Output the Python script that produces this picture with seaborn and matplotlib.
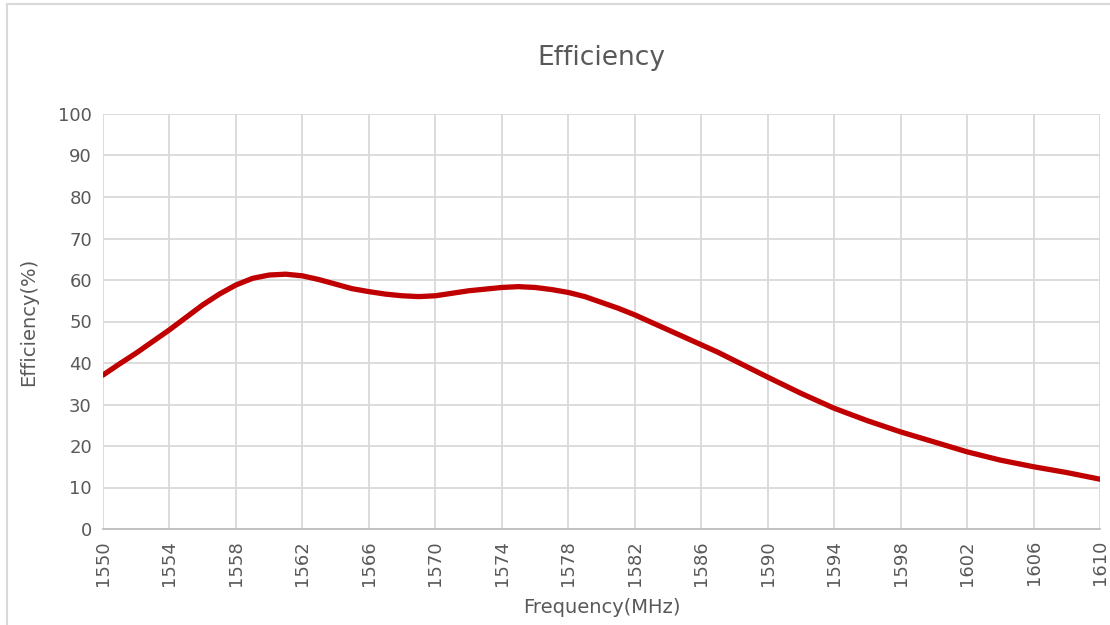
import matplotlib
matplotlib.use("Agg")
import matplotlib.pyplot as plt
import pandas as pd
import seaborn as sns
from matplotlib.lines import Line2D

# values: every 1 MHz up to 1590, then every 2 MHz
freq_mhz = [1550, 1551, 1552, 1553, 1554, 1555, 1556, 1557, 1558, 1559,
            1560, 1561, 1562, 1563, 1564, 1565, 1566, 1567, 1568, 1569,
            1570, 1571, 1572, 1573, 1574, 1575, 1576, 1577, 1578, 1579,
            1580, 1581, 1582, 1583, 1584, 1585, 1586, 1587, 1588, 1589,
            1590, 1592, 1594, 1596, 1598, 1600, 1602, 1604, 1606, 1608, 1610]
efficiency = [37.1, 39.8, 42.4, 45.2, 48.0, 51.0, 54.0, 56.6, 58.8, 60.4,
              61.2, 61.4, 61.0, 60.1, 59.0, 57.9, 57.2, 56.6, 56.2, 56.0,
              56.2, 56.8, 57.4, 57.8, 58.2, 58.4, 58.2, 57.7, 57.0, 56.0,
              54.6, 53.2, 51.6, 49.8, 48.0, 46.2, 44.4, 42.6, 40.6, 38.6,
              36.6, 32.7, 29.1, 26.1, 23.4, 21.0, 18.6, 16.6, 15.0, 13.6, 12.0]
x_ticks = list(range(1550, 1611, 4))
y_ticks = list(range(0, 101, 10))

df = pd.DataFrame({"Frequency": freq_mhz, "Efficiency": efficiency})

sns.set_style("white")
plt.rcParams["font.family"] = ["DejaVu Sans"]
text_color = "#595959"
grid_color = "#D9D9D9"

fig = plt.figure(figsize=(11.1, 6.25), dpi=100)
ax = fig.add_axes([103 / 1110, 1 - 529 / 625, 997 / 1110, 415 / 625])

sns.lineplot(data=df, x="Frequency", y="Efficiency", ax=ax,
             color="#C00000", linewidth=3.8, solid_capstyle="round",
             solid_joinstyle="round")

ax.set_xlim(1550, 1610)
ax.set_ylim(0, 100)
ax.set_xticks(x_ticks)
ax.set_yticks(y_ticks)
ax.set_xticklabels([str(t) for t in x_ticks], rotation=90)
ax.grid(True, color=grid_color, linewidth=1.3)
ax.set_axisbelow(True)
for side in ["top", "right", "left"]:
    ax.spines[side].set_visible(False)
ax.spines["bottom"].set_color("#BFBFBF")
ax.spines["bottom"].set_linewidth(1.3)
ax.tick_params(axis="both", length=0, labelsize=13, colors=text_color, pad=8)

ax.set_xlabel("Frequency(MHz)", fontsize=14, color=text_color, labelpad=9)
ax.set_ylabel("Efficiency(%)", fontsize=14, color=text_color, labelpad=14)
fig.text(0.5 * (103 + 1100) / 1110, 1 - 58 / 625, "Efficiency",
         ha="center", va="center", fontsize=19, color=text_color)

# chart area border
fig.add_artist(Line2D([7 / 1110, 7 / 1110], [0, 1 - 4 / 625],
                      transform=fig.transFigure, color=grid_color, linewidth=1.5))
fig.add_artist(Line2D([7 / 1110, 1], [1 - 4 / 625, 1 - 4 / 625],
                      transform=fig.transFigure, color=grid_color, linewidth=1.5))

fig.savefig("out.png", dpi=100)
